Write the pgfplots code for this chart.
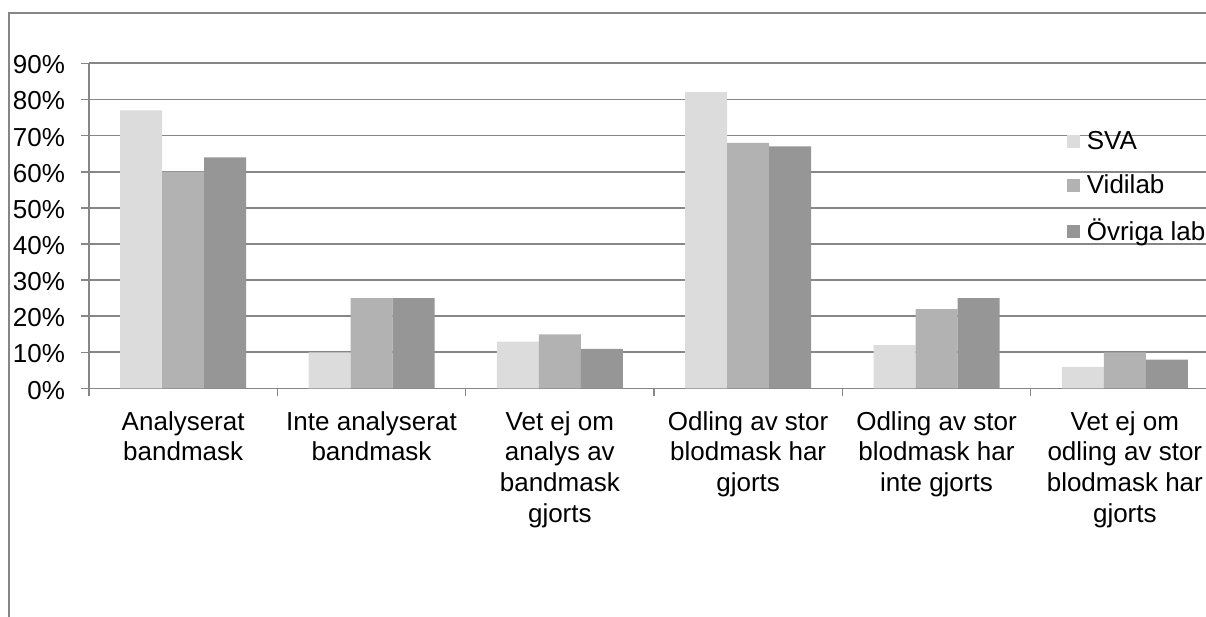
\documentclass[border=0pt]{standalone}
\usepackage{fontspec}
\setmainfont{Liberation Sans}
\usepackage{pgfplots}
\pgfplotsset{compat=1.18}
\definecolor{gridc}{HTML}{868686}
\definecolor{svac}{HTML}{DCDCDC}
\definecolor{vidc}{HTML}{B2B2B2}
\definecolor{ovrc}{HTML}{969696}
\newcommand{\chartfont}{\fontsize{13bp}{15.3bp}\selectfont}
\begin{document}
\begin{tikzpicture}
\path[use as bounding box] (0,0) rectangle (603bp,308.5bp);
\clip (0,0) rectangle (603bp,308.5bp);
% chart frame
\draw[gridc, line width=0.8bp] (4.5bp,-10bp) -- (4.5bp,302bp) -- (640bp,302bp);
\begin{axis}[
  at={(44.5bp,114.25bp)}, anchor=south west,
  scale only axis, width=565bp, height=162.6bp,
  xmin=-0.5, xmax=5.5, ymin=0, ymax=90,
  ybar=0pt, bar width=21bp,
  axis lines*=left,
  axis line style={gridc, line width=0.9bp},
  ymajorgrids, grid style={gridc, line width=0.9bp},
  ytick={0,10,...,90},
  yticklabels={0\%,10\%,20\%,30\%,40\%,50\%,60\%,70\%,80\%,90\%},
  xtick={-0.5,0.5,...,5.5},
  x tick label as interval,
  xticklabels={{Analyserat\\bandmask},{Inte analyserat\\bandmask},{Vet ej om\\analys av\\bandmask\\gjorts},{Odling av stor\\blodmask har\\gjorts},{Odling av stor\\blodmask har\\inte gjorts},{Vet ej om\\odling av stor\\blodmask har\\gjorts}},
  tick label style={font=\chartfont},
  xticklabel style={align=center, anchor=north, yshift=-4bp},
  yticklabel style={anchor=east, xshift=-4.5bp, yshift=-0.8bp},
  tick align=outside, major tick length=4bp,
  tick style={gridc, line width=0.8bp},
  legend style={at={(0.865,0.805)}, anchor=north west, draw=none, fill=none,
    font=\chartfont, row sep=7.3bp, inner sep=0pt,
    nodes={inner xsep=3.5bp}},
  legend cell align=left,
  legend image code/.code={\fill[#1] (0bp,-3.25bp) rectangle (6.5bp,3.25bp);},
]
\addplot[fill=svac, draw=none] coordinates {(0,77) (1,10) (2,13) (3,82) (4,12) (5,6)};
\addplot[fill=vidc, draw=none] coordinates {(0,60) (1,25) (2,15) (3,68) (4,22) (5,10)};
\addplot[fill=ovrc, draw=none] coordinates {(0,64) (1,25) (2,11) (3,67) (4,25) (5,8)};
\legend{SVA,Vidilab,Övriga lab}
\end{axis}
\end{tikzpicture}
\end{document}
